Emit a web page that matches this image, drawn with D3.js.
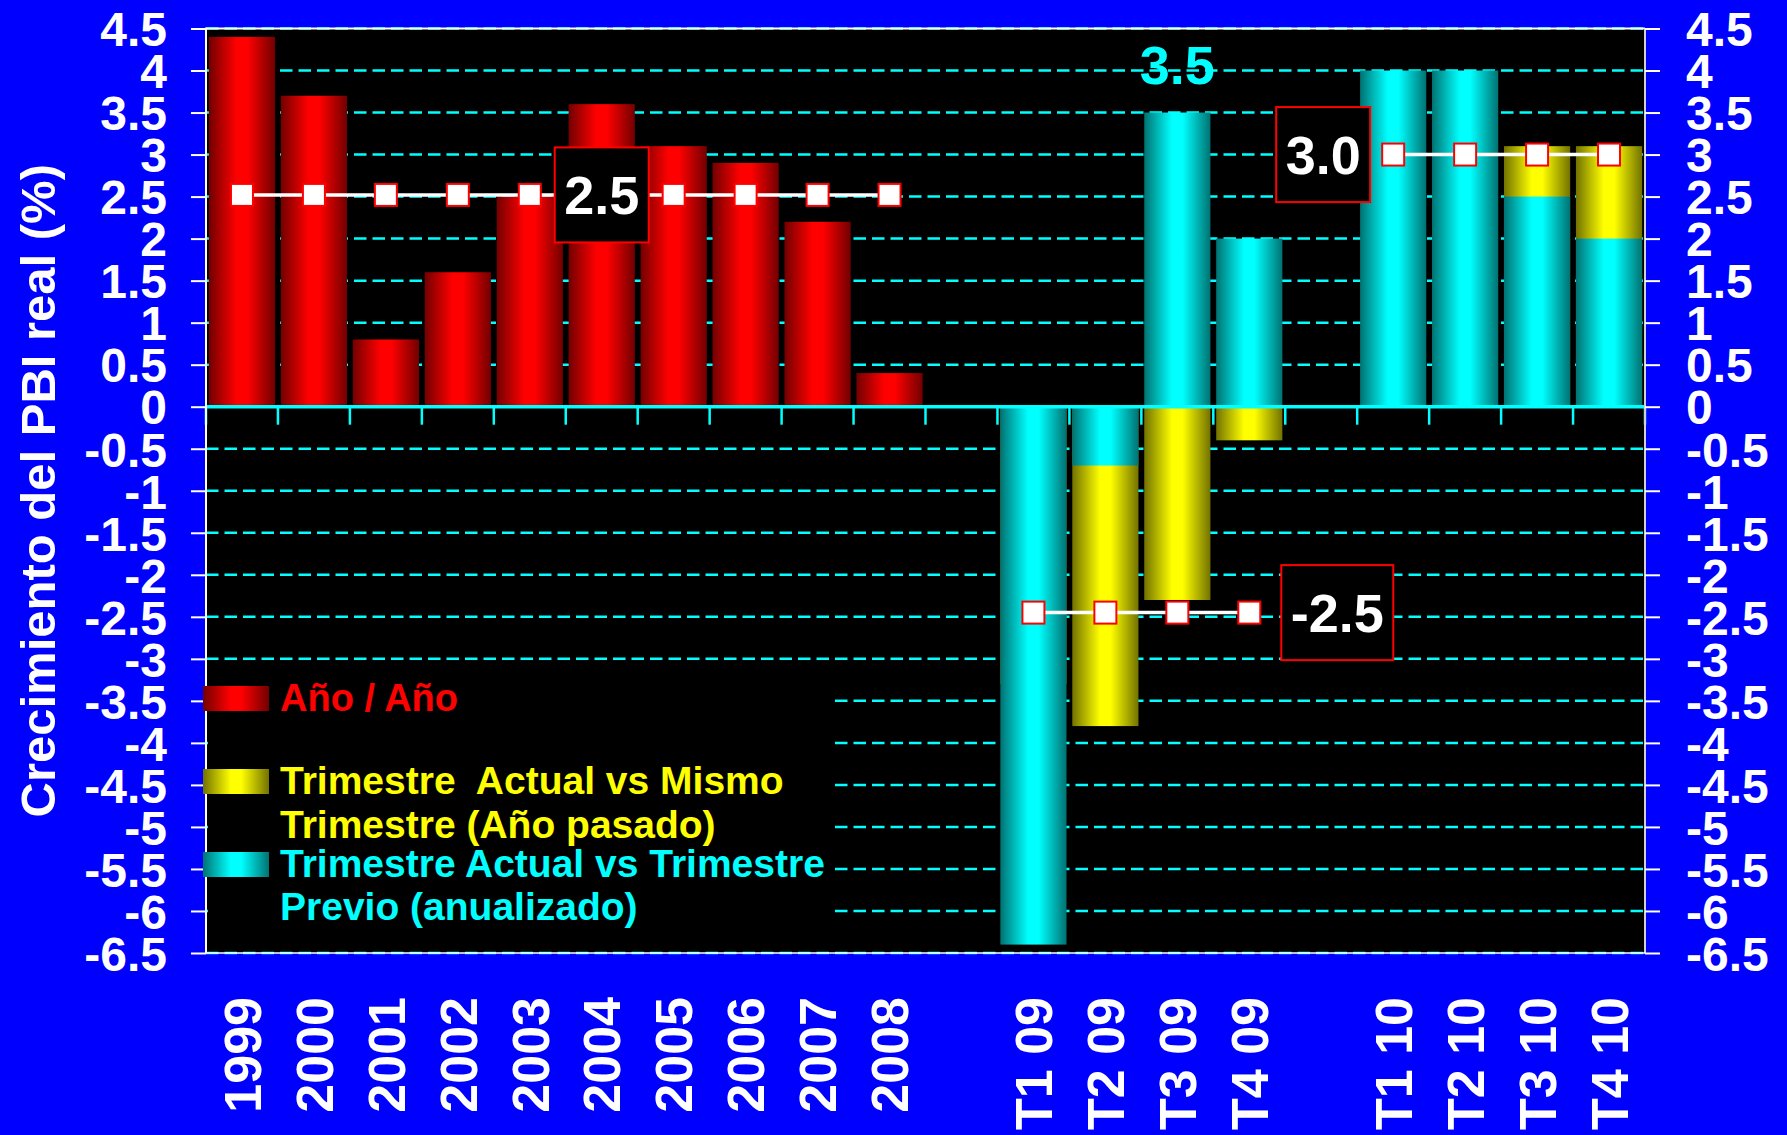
<!DOCTYPE html>
<html>
<head>
<meta charset="utf-8">
<script src="https://cdn.jsdelivr.net/npm/d3@7"></script>
<style>
html, body { margin: 0; padding: 0; background: #0000ff; overflow: hidden; }
text { font-family: "Liberation Sans", Arial, sans-serif; font-weight: bold; }
</style>
</head>
<body>
<div id="chart"></div>
<script>
// categories (two blank slots separate the groups)
var categories = ["1999","2000","2001","2002","2003","2004","2005","2006","2007","2008"," ",
  "T1 09","T2 09","T3 09","T4 09","  ","T1 10","T2 10","T3 10","T4 10"];
var yearCats = ["1999","2000","2001","2002","2003","2004","2005","2006","2007","2008"];
var quarterCats = ["T1 09","T2 09","T3 09","T4 09","T1 10","T2 10","T3 10","T4 10"];

// Año / Año
var anoAno = [4.4, 3.7, 0.8, 1.6, 2.5, 3.6, 3.1, 2.9, 2.2, 0.4];
// Trimestre actual vs mismo trimestre (año pasado)
var trimAnual = [-3.3, -3.8, -2.3, -0.4, null, null, 3.1, 3.1];
// Trimestre actual vs trimestre previo (anualizado)
var trimPrevio = [-6.4, -0.7, 3.5, 2.0, 4.0, 4.0, 2.5, 2.0];

// average lines
var promYears = [2.52, 2.52, 2.52, 2.52, 2.52, 2.52, 2.52, 2.52, 2.52, 2.52];
var promCats09 = ["T1 09","T2 09","T3 09","T4 09"];
var prom09 = [-2.45, -2.45, -2.45, -2.45];
var promCats10 = ["T1 10","T2 10","T3 10","T4 10"];
var prom10 = [3.0, 3.0, 3.0, 3.0];

var yTicks = [-6.5,-6,-5.5,-5,-4.5,-4,-3.5,-3,-2.5,-2,-1.5,-1,-0.5,0,0.5,1,1.5,2,2.5,3,3.5,4,4.5];
var legendLabels = [["Año / Año"],
  ["Trimestre  Actual vs Mismo", "Trimestre (Año pasado)"],
  ["Trimestre Actual vs Trimestre", "Previo (anualizado)"]];
var yTitle = "Crecimiento del PBI real (%)";

var width = 1787, height = 1135;
var pLeft = 206, pRight = 1645, pTop = 28.5, pBottom = 953;

var svg = d3.select("#chart").append("svg")
  .attr("width", width)
  .attr("height", height);

svg.append("rect").attr("width", width).attr("height", height).attr("fill", "#0000ff");

var defs = svg.append("defs");
function grad(id, dark, bright) {
  var g = defs.append("linearGradient").attr("id", id)
    .attr("x1", 0).attr("x2", 1).attr("y1", 0).attr("y2", 0);
  g.append("stop").attr("offset", "0%").attr("stop-color", dark);
  g.append("stop").attr("offset", "42%").attr("stop-color", bright);
  g.append("stop").attr("offset", "58%").attr("stop-color", bright);
  g.append("stop").attr("offset", "100%").attr("stop-color", dark);
}
grad("gRed", "#720000", "#ff0000");
grad("gYellow", "#727200", "#ffff00");
grad("gCyan", "#007272", "#00ffff");

var x = d3.scaleBand().domain(categories).range([pLeft, pRight])
  .paddingInner(0.08).paddingOuter(0.04);
var y = d3.scaleLinear().domain([-6.5, 4.5]).range([pBottom, pTop]);
var bw = x.bandwidth();
var cx = function(c) { return x(c) + bw / 2; };

// plot background
svg.append("rect").attr("x", pLeft).attr("y", pTop)
  .attr("width", pRight - pLeft).attr("height", pBottom - pTop).attr("fill", "#000");

// gridlines
svg.selectAll(".grid").data(yTicks.filter(function(d) { return d !== 0; }))
  .enter().append("line")
  .attr("x1", pLeft).attr("x2", pRight)
  .attr("y1", function(d) { return y(d); }).attr("y2", function(d) { return y(d); })
  .attr("stroke", "#00ffff").attr("stroke-width", 2.5)
  .attr("stroke-dasharray", "12.5,6");

// legend background hides gridlines
svg.append("rect").attr("x", pLeft + 2).attr("y", 665)
  .attr("width", 835 - pLeft - 2).attr("height", 268).attr("fill", "#000");

// bars
svg.selectAll(".barY").data(yearCats).enter().append("rect")
  .attr("x", function(d) { return x(d); })
  .attr("width", bw)
  .attr("y", function(d, i) { return y(Math.max(0, anoAno[i])); })
  .attr("height", function(d, i) { return Math.abs(y(anoAno[i]) - y(0)); })
  .attr("fill", "url(#gRed)");

svg.selectAll(".barA").data(quarterCats.filter(function(d, i) { return trimAnual[i] != null; }))
  .enter().append("rect")
  .attr("x", function(d) { return x(d); })
  .attr("width", bw)
  .attr("y", function(d) { var v = trimAnual[quarterCats.indexOf(d)]; return y(Math.max(0, v)); })
  .attr("height", function(d) { var v = trimAnual[quarterCats.indexOf(d)]; return Math.abs(y(v) - y(0)); })
  .attr("fill", "url(#gYellow)");

svg.selectAll(".barP").data(quarterCats).enter().append("rect")
  .attr("x", function(d) { return x(d); })
  .attr("width", bw)
  .attr("y", function(d, i) { return y(Math.max(0, trimPrevio[i])); })
  .attr("height", function(d, i) { return Math.abs(y(trimPrevio[i]) - y(0)); })
  .attr("fill", "url(#gCyan)");

// zero line with category ticks
var y0 = y(0);
var gap = (x.step() - bw) / 2;
var bounds = categories.map(function(c) { return x(c) - gap; }).concat([pRight]);
svg.selectAll(".ctick").data(bounds).enter().append("line")
  .attr("x1", function(d) { return d; }).attr("x2", function(d) { return d; })
  .attr("y1", y0).attr("y2", y0 + 18)
  .attr("stroke", "#00ffff").attr("stroke-width", 2.5);
svg.append("line").attr("x1", pLeft).attr("x2", pRight).attr("y1", y0).attr("y2", y0)
  .attr("stroke", "#00ffff").attr("stroke-width", 3.5);

// plot border
svg.append("path")
  .attr("d", "M" + pLeft + "," + pBottom + "V" + pTop + "H" + pRight)
  .attr("fill", "none").attr("stroke", "#fff").attr("stroke-width", 2);
svg.append("line").attr("x1", pRight).attr("x2", pRight).attr("y1", pTop).attr("y2", pBottom)
  .attr("stroke", "#cfcfcf").attr("stroke-width", 2);
svg.append("line").attr("x1", pLeft).attr("x2", pRight).attr("y1", pBottom).attr("y2", pBottom)
  .attr("stroke", "#fff").attr("stroke-width", 1.5);

// y axes
var fmt = function(d) { return String(d); };
var axL = svg.append("g").attr("transform", "translate(" + pLeft + ",0)")
  .call(d3.axisLeft(y).tickValues(yTicks).tickFormat(fmt).tickSize(15).tickPadding(24));
var axR = svg.append("g").attr("transform", "translate(" + pRight + ",0)")
  .call(d3.axisRight(y).tickValues(yTicks).tickFormat(fmt).tickSize(15).tickPadding(26));
[axL, axR].forEach(function(ax) {
  ax.select(".domain").remove();
  ax.selectAll("line").attr("stroke", "#fff").attr("stroke-width", 2);
  ax.selectAll("text").attr("fill", "#fff").style("font-size", "48px")
    .style("font-family", "'Liberation Sans', Arial, sans-serif").style("font-weight", "bold")
    .attr("dy", "0.36em");
});

// y title
svg.append("text")
  .attr("transform", "translate(55," + ((pTop + pBottom) / 2) + ") rotate(-90)")
  .attr("text-anchor", "middle")
  .attr("fill", "#fff").style("font-size", "49px")
  .text(yTitle);

// x labels
svg.selectAll(".xlab").data(categories.filter(function(c) { return c.trim() !== ""; }))
  .enter().append("text")
  .attr("transform", function(d) { return "translate(" + cx(d) + ",997) rotate(-90)"; })
  .attr("text-anchor", "end")
  .attr("dy", "0.36em")
  .attr("fill", "#fff").style("font-size", "52px")
  .text(function(d) { return d; });

// average lines
function avgLine(cats, vals) {
  var pts = cats.map(function(c, i) { return { c: c, v: vals[i] }; });
  svg.append("path").datum(pts)
    .attr("d", d3.line().x(function(d) { return cx(d.c); }).y(function(d) { return y(d.v); }))
    .attr("fill", "none").attr("stroke", "#fff").attr("stroke-width", 3.5);
  svg.selectAll(null).data(pts).enter().append("rect")
    .attr("x", function(d) { return cx(d.c) - 11; })
    .attr("y", function(d) { return y(d.v) - 11; })
    .attr("width", 22).attr("height", 22)
    .attr("fill", "#fff").attr("stroke", "#ff0000").attr("stroke-width", 2);
}
avgLine(yearCats, promYears);
avgLine(promCats09, prom09);
avgLine(promCats10, prom10);

// value boxes
function valueBox(xc, yc, w, label) {
  svg.append("rect").attr("x", xc - w / 2).attr("y", yc - 47.5)
    .attr("width", w).attr("height", 95)
    .attr("fill", "#000").attr("stroke", "#ff0000").attr("stroke-width", 2);
  svg.append("text").attr("x", xc).attr("y", yc).attr("dy", "0.36em")
    .attr("text-anchor", "middle").attr("fill", "#fff").style("font-size", "54px")
    .text(label);
}
valueBox(cx("2004"), y(promYears[5]), 94, "2.5");
valueBox(cx("T1 10") - 23 - 47, y(prom10[0]), 94, "3.0");
valueBox(cx("T4 09") + 32 + 56, y(prom09[3]), 112, "-2.5");

// label above T3 09
svg.append("text").attr("x", cx("T3 09")).attr("y", y(trimPrevio[2]) - 29)
  .attr("text-anchor", "middle").attr("fill", "#00ffff").style("font-size", "54px")
  .text(String(trimPrevio[2].toFixed(1)));

// legend
var legend = [
  { fill: "url(#gRed)", color: "#ff0000", sy: 686, base: [711], size: 38 },
  { fill: "url(#gYellow)", color: "#ffff00", sy: 769, base: [794, 838], size: 39 },
  { fill: "url(#gCyan)", color: "#00ffff", sy: 852, base: [877, 920], size: 39 }
];
legend.forEach(function(l, i) {
  svg.append("rect").attr("x", 203).attr("y", l.sy).attr("width", 66).attr("height", 25)
    .attr("fill", l.fill);
  legendLabels[i].forEach(function(t, j) {
    svg.append("text").attr("x", 280).attr("y", l.base[j])
      .attr("fill", l.color).style("font-size", l.size + "px").style("white-space", "pre")
      .text(t);
  });
});
</script>
</body>
</html>
